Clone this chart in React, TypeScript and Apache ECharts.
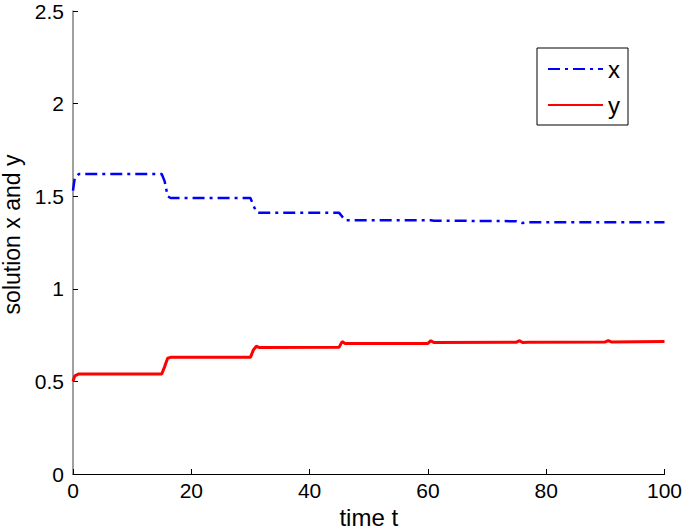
import React, { useEffect, useRef } from "react";
import * as echarts from "echarts";

const timeValues = [0, 0.3, 1, 15, 15.5, 16, 16.5, 30, 30.5, 31, 31.5, 45, 45.5, 46, 60, 60.5, 61, 75, 75.5, 76, 77, 90, 90.5, 91, 100];
const xValues = [1.53, 1.6, 1.62, 1.62, 1.58, 1.5, 1.49, 1.49, 1.45, 1.415, 1.41, 1.41, 1.39, 1.37, 1.37, 1.37, 1.368, 1.365, 1.36, 1.355, 1.36, 1.36, 1.36, 1.36, 1.36];
const yValues = [0.5, 0.53, 0.54, 0.54, 0.58, 0.625, 0.63, 0.63, 0.67, 0.69, 0.683, 0.685, 0.715, 0.705, 0.705, 0.72, 0.71, 0.712, 0.72, 0.71, 0.712, 0.713, 0.72, 0.713, 0.715];
const xTicks = [0, 20, 40, 60, 80, 100];
const yTicks = [0, 0.5, 1, 1.5, 2, 2.5];
const seriesNames = ["x", "y"];

export default function App() {
  const ref = useRef<HTMLDivElement>(null);
  useEffect(() => {
    if (!ref.current) return;
    const chart = echarts.init(ref.current, null, { renderer: "svg" });
    const font = "Liberation Sans, Arial, Helvetica, sans-serif";
    chart.setOption({
      animation: false,
      backgroundColor: "#fff",
      grid: { left: 73, right: 20.5, top: 11, bottom: 57, containLabel: false, outerBoundsMode: "none" },
      legend: {
        orient: "vertical",
        left: 537,
        top: 48,
        data: seriesNames,
        itemWidth: 55,
        itemHeight: 14,
        itemGap: 12,
        borderColor: "#000",
        borderWidth: 1,
        borderRadius: 0,
        padding: [9, 8, 8, 10],
        itemStyle: { opacity: 0 },
        textStyle: { fontFamily: font, fontSize: 24, color: "#000", lineHeight: 22, padding: [0, 0, 0, 0] },
      },
      xAxis: {
        type: "value",
        min: xTicks[0],
        max: xTicks[xTicks.length - 1],
        interval: 20,
        name: "time t",
        nameLocation: "middle",
        nameGap: 28,
        nameTextStyle: { fontFamily: font, fontSize: 24, color: "#000", lineHeight: 24 },
        axisLine: { show: true, onZero: false, lineStyle: { color: "#000", width: 1 } },
        axisTick: { show: true, inside: true, length: 5, lineStyle: { color: "#000" } },
        axisLabel: { fontFamily: font, fontSize: 21, color: "#000", margin: 8, lineHeight: 16 },
        splitLine: { show: false },
      },
      yAxis: {
        type: "value",
        min: yTicks[0],
        max: yTicks[yTicks.length - 1],
        interval: 0.5,
        name: "solution x and y",
        nameLocation: "middle",
        nameGap: 47,
        nameTextStyle: { fontFamily: font, fontSize: 23, color: "#000", lineHeight: 23, padding: [0, 0, 0, 16] },
        axisLine: { show: true, lineStyle: { color: "#808080", width: 1.5 } },
        axisTick: { show: true, inside: true, length: 5, lineStyle: { color: "#000" } },
        axisLabel: { fontFamily: font, fontSize: 21, color: "#000", margin: 9, lineHeight: 16 },
        splitLine: { show: false },
      },
      series: [
        {
          name: seriesNames[0],
          type: "line",
          symbol: "none",
          data: timeValues.map((t, i) => [t, xValues[i]]),
          lineStyle: { color: "#0000ff", width: 2.5, type: [12, 5, 3, 5] },
          itemStyle: { color: "#0000ff" },
        },
        {
          name: seriesNames[1],
          type: "line",
          symbol: "none",
          data: timeValues.map((t, i) => [t, yValues[i]]),
          lineStyle: { color: "#ff0000", width: 3, type: "solid" },
          itemStyle: { color: "#ff0000" },
        },
      ],
    });
    return () => chart.dispose();
  }, []);
  return <div ref={ref} style={{ width: 685, height: 531, position: "absolute", left: 0, top: 0 }} />;
}
